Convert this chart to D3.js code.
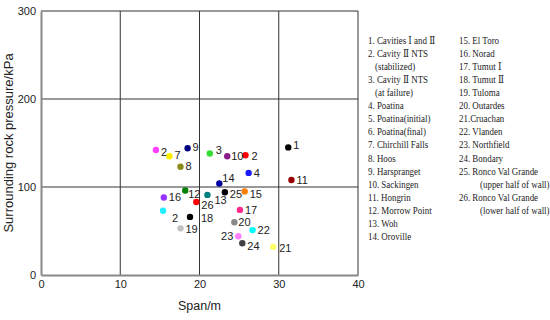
<!DOCTYPE html>
<html>
<head>
<meta charset="utf-8">
<script src="https://cdn.jsdelivr.net/npm/d3@7"></script>
<style>
  body { margin: 0; background: #fff; }
  svg { display: block; }
</style>
</head>
<body>
<svg id="chart" width="550" height="320"></svg>
<script>
// case number of each point, span (m), surrounding rock pressure (kPa), colour
var caseIds   = ["1", "2", "2", "2", "3", "4", "7", "8", "9", "10", "11", "12", "13",
                 "14", "15", "16", "17", "18", "19", "20", "21", "22", "23", "24", "25", "26"];
var spans     = [31.2, 14.5, 25.8, 15.4, 21.3, 26.2, 16.2, 17.6, 18.5, 23.5, 31.6, 18.2, 21.0,
                 22.5, 25.7, 15.5, 25.1, 18.8, 17.6, 24.4, 29.3, 26.7, 24.9, 25.4, 23.2, 19.6];
var pressures = [145, 142, 136, 73, 138, 116, 135, 123, 144, 135, 108, 96, 91,
                 104, 95, 88, 74, 66, 53, 60, 32, 51, 44, 36, 94, 83];
var colors    = ["#000000", "#ff40ff", "#ff0000", "#22eeff", "#33dd33", "#1a1aff", "#ffee00", "#8b8b1a",
                 "#000080", "#8b1a8b", "#990000", "#008000", "#008080", "#0000a0", "#ff8000", "#9933ff",
                 "#ff2a8c", "#000000", "#c0c0c0", "#888888", "#ffff66", "#00ffff", "#ff80ff", "#404040",
                 "#000000", "#ff0000"];

var xTicks = [0, 10, 20, 30, 40];
var yTicks = [0, 100, 200, 300];

var legendCol1 = ["1. Cavities \u2160 and \u2161", "2. Cavity \u2161 NTS", "  (stabilized)",
                  "3. Cavity \u2161 NTS", "  (at failure)", "4. Poatina", "5. Poatina(initial)",
                  "6. Poatina(final)", "7. Chirchill Falls", "8. Hoos", "9. Harspranget",
                  "10. Sackingen", "11. Hongrin", "12. Morrow Point", "13. Woh", "14. Oroville"];
var legendCol2 = ["15. El Toro", "16. Norad", "17. Tumut \u2160", "18. Tumut \u2161", "19. Tuloma",
                  "20. Outardes", "21.Cruachan", "22. Vlanden", "23. Northfield", "24. Bondary",
                  "25. Ronco Val Grande", "    (upper half of wall)", "26. Ronco Val Grande",
                  "    (lower half of wall)"];

// label nudges (px) relative to each point, same order as the data
var labelNudge = [[5,-2],[5,2],[6,1],[9,7],[6,-3],[5,0],[5,-1],[5,-1],[5,-1],[4,0],[5,0],[3,4],[7,5],
                  [3,-5],[5,3],[5,0],[5,0],[11,1],[5,1],[4,0],[6,1],[5,0],[-5,0],[5,3],[5,2],[5,3.5]];

var svg = d3.select("#chart");
var margin = {left: 41, top: 11};

var x = d3.scaleLinear().domain([0, 40]).range([margin.left, 358]);
var y = d3.scaleLinear().domain([0, 300]).range([275, margin.top]);

// grid
svg.append("g").selectAll("line").data(xTicks.slice(1)).enter().append("line")
  .attr("x1", function(d){ return x(d); }).attr("x2", function(d){ return x(d); })
  .attr("y1", y(0)).attr("y2", y(300))
  .attr("stroke", "#333").attr("stroke-width", 1);
svg.append("g").selectAll("line").data(yTicks.slice(1)).enter().append("line")
  .attr("x1", x(0)).attr("x2", x(40))
  .attr("y1", function(d){ return y(d); }).attr("y2", function(d){ return y(d); })
  .attr("stroke", "#333").attr("stroke-width", 1);

// axes
var xAxis = svg.append("g").attr("transform", "translate(0," + y(0) + ")")
  .call(d3.axisBottom(x).tickValues(xTicks).tickSize(0).tickPadding(5));
var yAxis = svg.append("g").attr("transform", "translate(" + x(0) + ",0)")
  .call(d3.axisLeft(y).tickValues(yTicks).tickSize(0).tickPadding(5));
[xAxis, yAxis].forEach(function(a){
  a.select(".domain").attr("stroke", "#888").attr("stroke-width", 2);
  a.selectAll("text").attr("font-family", "Liberation Sans, Arial, sans-serif")
    .attr("font-size", "11px").attr("fill", "#222");
});

svg.append("text").attr("x", x(20)).attr("y", 310).attr("text-anchor", "middle")
  .attr("font-family", "Liberation Sans, Arial, sans-serif").attr("font-size", "12.5px")
  .attr("fill", "#222").text("Span/m");
svg.append("text").attr("transform", "translate(13," + ((y(0) + y(300)) / 2) + ") rotate(-90)")
  .attr("text-anchor", "middle")
  .attr("font-family", "Liberation Sans, Arial, sans-serif").attr("font-size", "13px")
  .attr("fill", "#222").text("Surrounding rock pressure/kPa");

// points
var pts = caseIds.map(function(id, i){
  return {id: id, span: spans[i], p: pressures[i], color: colors[i], nudge: labelNudge[i]};
});
svg.append("g").selectAll("circle").data(pts).enter().append("circle")
  .attr("cx", function(d){ return x(d.span); })
  .attr("cy", function(d){ return y(d.p); })
  .attr("r", 3.2)
  .attr("fill", function(d){ return d.color; });
svg.append("g").selectAll("text").data(pts).enter().append("text")
  .attr("x", function(d){ return x(d.span) + d.nudge[0]; })
  .attr("y", function(d){ return y(d.p) + d.nudge[1]; })
  .attr("dy", "0.35em")
  .attr("text-anchor", function(d){ return d.nudge[0] < 0 ? "end" : "start"; })
  .attr("font-family", "Liberation Sans, Arial, sans-serif").attr("font-size", "11px")
  .attr("fill", "#222")
  .text(function(d){ return d.id; });

// legend - the source typesets it a bit narrow, so squeeze it horizontally
var squeeze = 0.85;
function legendColumn(lines, x0, indent){
  var g = svg.append("g")
    .attr("transform", "translate(" + x0 + ",0) scale(" + squeeze + ",1)")
    .attr("font-family", "Liberation Serif, Times New Roman, DejaVu Serif, serif")
    .attr("font-size", "10.5px").attr("fill", "#222");
  g.selectAll("text").data(lines).enter().append("text")
    .attr("x", function(d){ return d.charAt(0) == " " ? indent / squeeze : 0; })
    .attr("y", function(d, i){ return 40 + i * 13.1; })
    .attr("dy", "0.35em")
    .text(function(d){ return d.trim(); });
}
legendColumn(legendCol1, 368, 7);
legendColumn(legendCol2, 459, 21);
</script>
</body>
</html>
